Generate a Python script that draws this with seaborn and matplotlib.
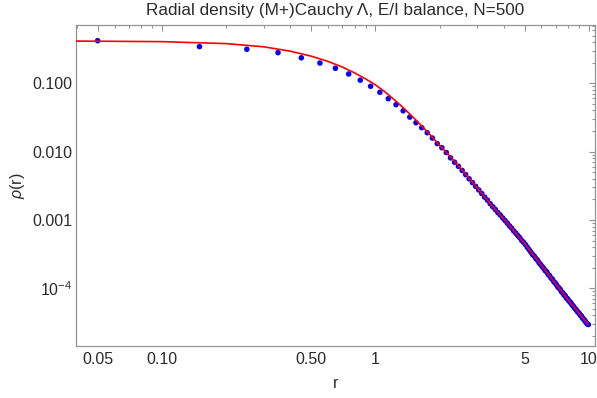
import numpy as np
import pandas as pd
import matplotlib
matplotlib.use("Agg")
import matplotlib.pyplot as plt
import seaborn as sns
from matplotlib.ticker import FixedLocator, FixedFormatter, NullFormatter

# %% data (binned radial density, bin width 0.1)
r_bins = [0.05, 0.15, 0.25, 0.35, 0.45, 0.55, 0.65, 0.75, 0.85, 0.95,
          1.05, 1.15, 1.25, 1.35, 1.45, 1.55, 1.65, 1.75, 1.85, 1.95,
          2.05, 2.15, 2.25, 2.35, 2.45, 2.55, 2.65, 2.75, 2.85, 2.95,
          3.05, 3.15, 3.25, 3.35, 3.45, 3.55, 3.65, 3.75, 3.85, 3.95,
          4.05, 4.15, 4.25, 4.35, 4.45, 4.55, 4.65, 4.75, 4.85, 4.95,
          5.05, 5.15, 5.25, 5.35, 5.45, 5.55, 5.65, 5.75, 5.85, 5.95,
          6.05, 6.15, 6.25, 6.35, 6.45, 6.55, 6.65, 6.75, 6.85, 6.95,
          7.05, 7.15, 7.25, 7.35, 7.45, 7.55, 7.65, 7.75, 7.85, 7.95,
          8.05, 8.15, 8.25, 8.35, 8.45, 8.55, 8.65, 8.75, 8.85, 8.95,
          9.05, 9.15, 9.25, 9.35, 9.45, 9.55, 9.65, 9.75, 9.85, 9.95]
rho_hist = [0.420, 0.344, 0.315, 0.281, 0.236, 0.198, 0.166, 0.137, 0.111, 0.0904,
            0.0738, 0.0595, 0.0487, 0.0396, 0.0320, 0.0265, 0.0224, 0.0189, 0.0158, 0.0131,
            0.0114, 0.0097, 0.0081, 0.0070, 0.0061, 0.0053, 0.0046, 0.0040, 0.00352, 0.00310,
            0.00275, 0.00244, 0.00216, 0.00195, 0.00173, 0.00156, 0.00142, 0.00128, 0.00118, 0.00107,
            0.00098, 0.00090, 0.00082, 0.00076, 0.00069, 0.00064, 0.00059, 0.00055, 0.00050, 0.00047,
            0.000435, 0.000398, 0.000368, 0.000340, 0.000312, 0.000296, 0.000272, 0.000258, 0.000236, 0.000222,
            0.000207, 0.000196, 0.000181, 0.000174, 0.000160, 0.000153, 0.000141, 0.000136, 0.000125, 0.000120,
            0.000113, 0.000105, 0.000101, 9.6e-5, 8.9e-5, 8.6e-5, 8.0e-5, 7.8e-5, 7.2e-5, 7.0e-5,
            6.6e-5, 6.3e-5, 6.1e-5, 5.7e-5, 5.5e-5, 5.2e-5, 5.0e-5, 4.8e-5, 4.55e-5, 4.4e-5,
            4.2e-5, 4.0e-5, 3.9e-5, 3.65e-5, 3.55e-5, 3.4e-5, 3.25e-5, 3.1e-5, 3.0e-5, 2.95e-5]

# fitted Cauchy profile (red curve)
r_fit = [0.035, 0.1, 0.2, 0.3, 0.4, 0.5, 0.6, 0.7, 0.8, 0.9, 1.0, 1.1, 1.2, 1.3, 1.4,
         1.6, 1.8, 2.0, 2.25, 2.5, 3.0, 3.5, 4.0, 4.5, 5.0, 6.0, 7.0, 8.0, 9.0, 9.95]
rho_fit = [0.416, 0.407, 0.381, 0.342, 0.295, 0.250, 0.209, 0.173, 0.142, 0.116, 0.095,
           0.0765, 0.061, 0.049, 0.0395, 0.0262, 0.0178, 0.0124, 0.0084, 0.0058,
           0.00295, 0.00165, 0.00103, 0.00067, 0.00045, 0.000216, 0.000116, 6.8e-5,
           4.3e-5, 2.95e-5]

x_major = [0.05, 0.1, 0.5, 1, 5, 10]
x_major_labels = ["0.05", "0.10", "0.50", "1", "5", "10"]
y_major = [1e-4, 1e-3, 1e-2, 1e-1]
y_major_labels = [r"$10^{-4}$", "0.001", "0.010", "0.100"]

pts = pd.DataFrame({"r": r_bins, "rho": rho_hist})
fit = pd.DataFrame({"r": r_fit, "rho": rho_fit})

# %% style
sns.set_style("white")
plt.rcParams["font.family"] = ["Liberation Sans", "DejaVu Sans"]
plt.rcParams["mathtext.fontset"] = "custom"
plt.rcParams["mathtext.rm"] = "Liberation Sans"
plt.rcParams["mathtext.it"] = "Liberation Sans:italic"
frame_col = "#939393"
text_col = "#2b2b2b"

fig = plt.figure(figsize=(5.97, 3.98), dpi=100)
ax = fig.add_axes([76 / 597, 1 - 346 / 398, (595 - 76) / 597, (346 - 25) / 398])

sns.scatterplot(data=pts, x="r", y="rho", ax=ax, color="#0000ff", s=16,
                edgecolor="none", zorder=2, legend=False)
sns.lineplot(data=fit, x="r", y="rho", ax=ax, color="#ff0000", lw=1.2,
             zorder=3, legend=False)

ax.set_xscale("log")
ax.set_yscale("log")
ax.set_xlim(0.0396, 10.69)
ax.set_ylim(1.43e-5, 0.713)

ax.xaxis.set_major_locator(FixedLocator(x_major))
ax.xaxis.set_major_formatter(FixedFormatter(x_major_labels))
minor_x = [m * d for d in (0.01, 0.1, 1) for m in range(2, 10)
           if m * d not in (0.05, 0.5, 5) and 0.0396 < m * d < 10.69]
ax.xaxis.set_minor_locator(FixedLocator(minor_x))
ax.xaxis.set_minor_formatter(NullFormatter())

ax.yaxis.set_major_locator(FixedLocator(y_major))
ax.yaxis.set_major_formatter(FixedFormatter(y_major_labels))
minor_y = [m * d for d in (1e-5, 1e-4, 1e-3, 1e-2, 1e-1) for m in range(2, 10)
           if 1.43e-5 < m * d < 0.713]
ax.yaxis.set_minor_locator(FixedLocator(minor_y))
ax.yaxis.set_minor_formatter(NullFormatter())

ax.tick_params(which="both", direction="in", top=True, right=True,
               color=frame_col, labelcolor=text_col, labelsize=11.5, width=0.8)
ax.tick_params(axis="x", which="major", length=4.3, pad=4)
ax.tick_params(axis="y", which="major", length=4.3, pad=2.5)
ax.tick_params(which="minor", length=2.5)
for sp in ax.spines.values():
    sp.set_color(frame_col)
    sp.set_linewidth(0.9)

ax.set_xlabel("r", fontsize=11.5, color=text_col, labelpad=7)
ax.set_ylabel(r"$\rho$(r)", fontsize=11.5, color=text_col, labelpad=4)
ax.set_title("Radial density (M+)Cauchy \u039b, E/I balance, N=500",
             fontsize=12.3, color=text_col, pad=7)

fig.savefig("out.png", dpi=100)
